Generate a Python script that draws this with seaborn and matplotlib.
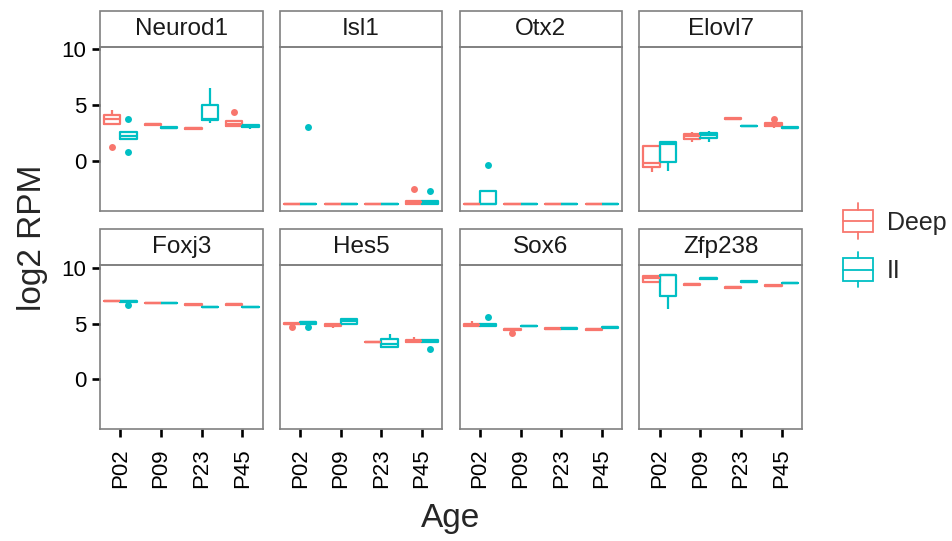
import matplotlib
matplotlib.use("Agg")  # headless rendering, no display needed
import matplotlib.pyplot as plt
import seaborn as sns
import pandas as pd
from matplotlib.patches import Rectangle, Patch
from matplotlib.lines import Line2D
from matplotlib.legend_handler import HandlerBase

genes = ["Neurod1", "Isl1", "Otx2", "Elovl7", "Foxj3", "Hes5", "Sox6", "Zfp238"]
ages = ["P02", "P09", "P23", "P45"]
layers = ["Deep", "II"]
palette = {"Deep": "#F8766D", "II": "#00BFC4"}

# replicate values per age: [Deep, II]
B = -3.86  # floor value (no reads)
neurod1 = [
    [[1.2, 3.2, 3.6, 3.9, 4.2, 4.55], [0.75, 1.95, 2.1, 2.4, 2.6, 3.75]],
    [[3.2, 3.25, 3.3, 3.35], [2.85, 2.9, 2.95, 3.05, 3.15]],
    [[2.85, 2.9, 2.95], [3.35, 3.7, 3.75, 5.0, 6.5]],
    [[3.0, 3.1, 3.3, 3.55, 4.35], [2.85, 3.05, 3.1, 3.2, 3.25]],
]
isl1 = [
    [[B, B, B, B, B], [B, B, B, B, 3.0]],
    [[B, B, B, B], [B, B, B, B]],
    [[B, B, B, B], [B, B, B, B]],
    [[B, B, B, -3.6, -3.55, -2.55], [B, B, -3.75, -3.6, -2.75]],
]
otx2 = [
    [[B, B, B, B, B], [B, B, B, -2.7, -0.4]],
    [[B, B, B, B], [B, B, B, B]],
    [[B, B, B, B], [B, B, B, B]],
    [[B, B, B, B], [B, B, B, B]],
]
elovl7 = [
    [[-1.0, -0.55, -0.2, 1.3, 1.45], [-0.9, -0.1, 1.5, 1.7, 1.75]],
    [[1.65, 1.95, 2.2, 2.4, 2.6], [1.7, 2.05, 2.3, 2.5, 2.7]],
    [[3.7, 3.75, 3.8, 3.85], [3.05, 3.1, 3.15, 3.2]],
    [[2.95, 3.1, 3.2, 3.35, 3.75], [2.9, 2.95, 3.0, 3.05]],
]
foxj3 = [
    [[6.95, 7.0, 7.05, 7.1], [6.65, 6.95, 7.0, 7.05, 7.1]],
    [[6.8, 6.85, 6.9], [6.8, 6.85, 6.9]],
    [[6.65, 6.7, 6.75], [6.45, 6.5, 6.55]],
    [[6.67, 6.72, 6.77], [6.45, 6.5, 6.55]],
]
hes5 = [
    [[4.65, 4.95, 5.0, 5.05, 5.1], [4.65, 5.0, 5.1, 5.15, 5.2]],
    [[4.6, 4.75, 4.9, 5.0, 5.05], [4.85, 4.95, 5.2, 5.45, 5.5]],
    [[3.3, 3.33, 3.36], [2.85, 2.9, 3.15, 3.6, 4.05]],
    [[3.25, 3.3, 3.4, 3.55, 3.75], [2.7, 3.3, 3.4, 3.5, 3.6]],
]
sox6 = [
    [[4.7, 4.8, 4.9, 5.0, 5.25], [4.7, 4.75, 4.85, 4.95, 5.55]],
    [[4.15, 4.4, 4.5, 4.55, 4.6], [4.7, 4.75, 4.8, 4.85]],
    [[4.5, 4.55, 4.6], [4.5, 4.55, 4.6, 4.65]],
    [[4.4, 4.45, 4.5, 4.55], [4.6, 4.65, 4.7, 4.75]],
]
zfp238 = [
    [[8.7, 8.75, 9.05, 9.3, 9.35], [6.3, 7.45, 9.35, 9.4, 9.45]],
    [[8.45, 8.5, 8.55, 8.6], [9.0, 9.05, 9.1]],
    [[8.2, 8.25, 8.3], [8.7, 8.75, 8.8]],
    [[8.35, 8.4, 8.45], [8.6, 8.65, 8.7]],
]
tables = [neurod1, isl1, otx2, elovl7, foxj3, hes5, sox6, zfp238]

rows = []
for gene, table in zip(genes, tables):
    for age, pair in zip(ages, table):
        for layer, reps in zip(layers, pair):
            for v in reps:
                rows.append((gene, age, layer, v))
df = pd.DataFrame(rows, columns=["gene", "Age", "layer", "log2 RPM"])

sns.set_style("white")
plt.rcParams["font.family"] = ["Liberation Sans", "DejaVu Sans"]

LW = 1.6
g = sns.catplot(data=df, x="Age", y="log2 RPM", hue="layer", col="gene",
                col_wrap=4, col_order=genes, order=ages, hue_order=layers,
                kind="box", fill=False, palette=palette, width=0.8, gap=0,
                linewidth=LW, fliersize=5, showcaps=False, legend=False,
                height=2, aspect=1)

fig = g.figure
fig.set_size_inches(9.53, 5.41)
fig.subplots_adjust(left=100 / 953, right=802 / 953, bottom=1 - 429.3 / 541,
                    top=1 - 46.7 / 541, wspace=0.106, hspace=0.331)
g.set_axis_labels("", "")

for i, (ax, gene) in enumerate(zip(g.axes.flat, genes)):
    ax.set_title("")
    ax.set_ylim(-4.49, 10.24)
    ax.set_yticks([0, 5, 10])
    for sp in ax.spines.values():
        sp.set_visible(True)
        sp.set_color("#808080")
        sp.set_linewidth(1.2)
    # filled round outlier dots
    for ln in ax.lines:
        if ln.get_marker() not in (None, "None", "", " "):
            ln.set_marker("o")
            ln.set_markerfacecolor(ln.get_markeredgecolor())
            ln.set_markeredgewidth(0)
            ln.set_markersize(5)
    ax.tick_params(axis="both", length=5.5, width=1.9, color="black",
                   labelsize=16, labelcolor="black")
    ax.tick_params(axis="y", pad=4.5)
    ax.tick_params(axis="x", rotation=90, pad=8)
    if i < 4:
        ax.tick_params(axis="x", bottom=False, labelbottom=False)
    else:
        ax.tick_params(axis="x", bottom=True, labelbottom=True)
    if i % 4 != 0:
        ax.tick_params(axis="y", left=False, labelleft=False)
    else:
        ax.tick_params(axis="y", left=True, labelleft=True)
    # facet strip
    ax.add_patch(Rectangle((0, 1), 1, 0.22, transform=ax.transAxes, clip_on=False,
                           facecolor="white", edgecolor="#808080", lw=1.2))
    ax.text(0.5, 1.11, gene, transform=ax.transAxes, ha="center", va="center",
            fontsize=17.5, color="#1a1a1a")

fig.text(33 / 953, 1 - 238 / 541, "log2 RPM", rotation=90, fontsize=24,
         ha="center", va="center")
fig.text(451 / 953, 1 - 519 / 541, "Age", fontsize=24, ha="center", va="center")


class BoxHandler(HandlerBase):
    def create_artists(self, legend, orig_handle, xdescent, ydescent, width,
                       height, fontsize, trans):
        c = orig_handle.get_edgecolor()
        x0, y0 = -xdescent, -ydescent
        xm = x0 + width / 2
        kw = dict(color=c, lw=1.3, transform=trans)
        rect = Rectangle((x0, y0), width, height, facecolor="none", edgecolor=c,
                         lw=1.3, transform=trans)
        med = Line2D([x0, x0 + width], [y0 + height / 2] * 2, **kw)
        top = Line2D([xm, xm], [y0 + height, y0 + height * 1.3], **kw)
        bot = Line2D([xm, xm], [y0, y0 - height * 0.3], **kw)
        return [rect, med, top, bot]


handles = [Patch(edgecolor=palette[l], facecolor="none") for l in layers]
fig.legend(handles=handles, labels=layers, handler_map={Patch: BoxHandler()},
           loc="center left", bbox_to_anchor=(843 / 953, 1 - 246.5 / 541),
           frameon=False, fontsize=18, handlelength=1.2, handleheight=1.0,
           handletextpad=0.55, labelspacing=0.95, borderpad=0, borderaxespad=0)

fig.savefig("out.png", dpi=100)
plt.close(fig)
